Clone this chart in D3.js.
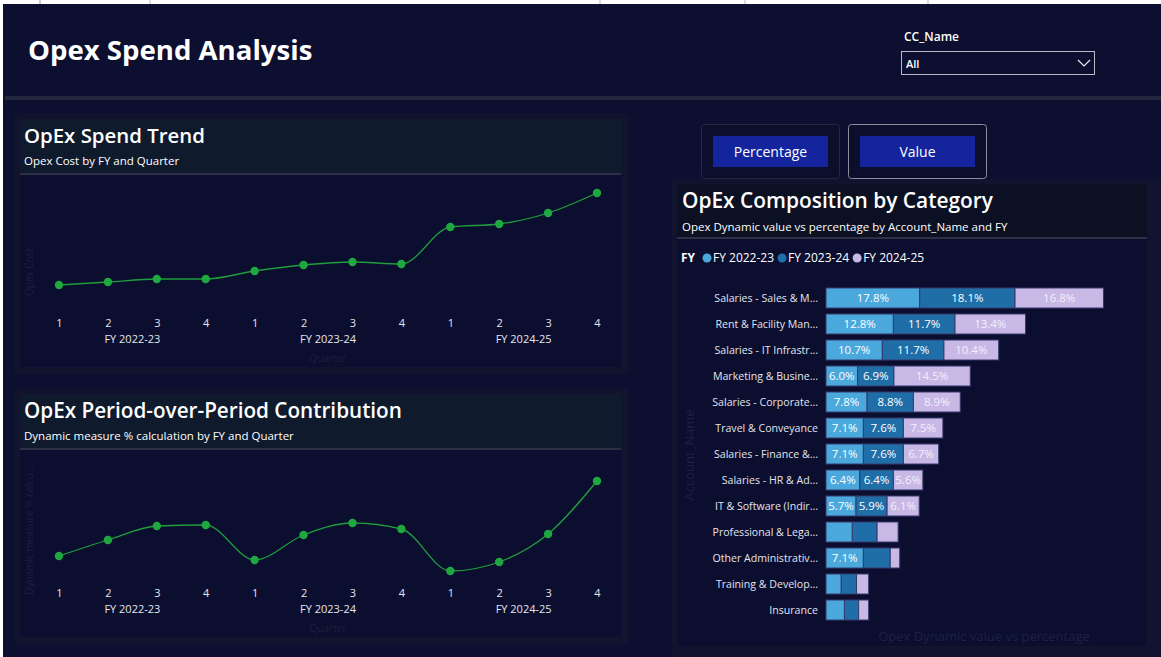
<!DOCTYPE html>
<html><head><meta charset="utf-8">
<script src="https://cdn.jsdelivr.net/npm/d3@7"></script>
<style>
html,body{margin:0;padding:0;background:#fff;overflow:hidden}
svg{display:block}
text{font-family:"Open Sans","Noto Sans",sans-serif}
</style></head><body>
<svg id="c" width="1161" height="657"></svg>
<script>
// ---------- DATA ----------
const quarters = ["1","2","3","4","1","2","3","4","1","2","3","4"];
const quarterFY = ["FY 2022-23","FY 2022-23","FY 2022-23","FY 2022-23","FY 2023-24","FY 2023-24","FY 2023-24","FY 2023-24","FY 2024-25","FY 2024-25","FY 2024-25","FY 2024-25"];
const fyLabels = ["FY 2022-23","FY 2023-24","FY 2024-25"];
const opexCost = [3.15, 3.18, 3.21, 3.21, 3.29, 3.35, 3.38, 3.36, 3.73, 3.76, 3.87, 4.07];
const popContribution = [2.4, 4.0, 5.4, 5.5, 2.0, 4.5, 5.7, 5.1, 0.9, 1.8, 4.6, 9.9];
const accounts = ["Salaries - Sales & M...","Rent & Facility Man...","Salaries - IT Infrastr...","Marketing & Busine...","Salaries - Corporate...","Travel & Conveyance","Salaries - Finance &...","Salaries - HR & Ad...","IT & Software (Indir...","Professional & Lega...","Other Administrativ...","Training & Develop...","Insurance"];
const pctFY2223 = [17.8, 12.8, 10.7, 6.0, 7.8, 7.1, 7.1, 6.4, 5.7, 5.0, 7.1, 2.9, 3.5];
const pctFY2324 = [18.1, 11.7, 11.7, 6.9, 8.8, 7.6, 7.6, 6.4, 5.9, 4.7, 5.1, 2.9, 2.7];
const pctFY2425 = [16.8, 13.4, 10.4, 14.5, 8.9, 7.5, 6.7, 5.6, 6.1, 4.0, 1.8, 2.3, 1.9];
const fyColors = ["#4aa8dd","#1f6ea8","#c8b8e6"];

// ---------- LAYOUT ----------
const svg = d3.select("#c");
const PAGE = "#0c0f30", RING = "#12142f", PLOT = "#0b0e2f", HEAD = "#0f1a2d", SEP = "#2c3044";

svg.append("rect").attr("x",0).attr("y",0).attr("width",1161).attr("height",657).attr("fill","#ffffff");
svg.append("rect").attr("x",3).attr("y",4).attr("width",1158).attr("height",653).attr("fill",PAGE);
[[40,"#999"],[150,"#bbb"],[600,"#bbb"],[745,"#bbb"],[928,"#bbb"]].forEach(([lx,c])=>{
  svg.append("line").attr("x1",lx).attr("x2",lx).attr("y1",0).attr("y2",4).attr("stroke",c);
});

// header
svg.append("text").attr("x",28).attr("y",60).attr("fill","#fff").attr("font-size",27.6).attr("font-weight",700).text("Opex Spend Analysis");
svg.append("rect").attr("x",5).attr("y",96).attr("width",1156).attr("height",4).attr("fill","#23263d");

// slicer
svg.append("text").attr("x",904).attr("y",41).attr("fill","#fff").attr("font-size",12).attr("font-weight",600).text("CC_Name");
svg.append("rect").attr("x",901.5).attr("y",51.5).attr("width",193).attr("height",23).attr("fill","none").attr("stroke","#b8bac6").attr("stroke-width",1);
svg.append("text").attr("x",906).attr("y",68).attr("fill","#fff").attr("font-size",11).attr("font-weight",600).text("All");
svg.append("path").attr("d","M1078,60 L1084,66 L1090,60").attr("fill","none").attr("stroke","#e8e8ee").attr("stroke-width",1.2);

// ---------- LINE PANELS ----------
function linePanel(cfg){
  const g = svg.append("g");
  g.append("rect").attr("x",cfg.x-5).attr("y",cfg.y-5).attr("width",cfg.w+12).attr("height",cfg.h+12).attr("fill",RING);
  g.append("rect").attr("x",cfg.x).attr("y",cfg.y).attr("width",cfg.w).attr("height",cfg.h).attr("fill",PLOT);
  g.append("rect").attr("x",cfg.x).attr("y",cfg.y).attr("width",cfg.w).attr("height",cfg.headH).attr("fill",HEAD);
  g.append("rect").attr("x",cfg.x).attr("y",cfg.y+cfg.headH-1).attr("width",cfg.w).attr("height",2).attr("fill",SEP);
  g.append("text").attr("x",cfg.x+4).attr("y",cfg.y+24).attr("fill","#fff").attr("font-size",cfg.titleSize).attr("font-weight",600).text(cfg.title);
  g.append("text").attr("x",cfg.x+4).attr("y",cfg.y+46).attr("fill","#fff").attr("font-size",11.5).text(cfg.subtitle);

  const keys = quarters.map((q,i)=>i);
  const x = d3.scalePoint().domain(keys).range([59,597]);
  const y = d3.scaleLinear().domain(cfg.domain).range(cfg.range);

  const xAxis = g.append("g").attr("transform",`translate(0,${cfg.tickY})`)
    .call(d3.axisBottom(x).tickSize(0).tickPadding(0).tickFormat(i=>quarters[i]));
  xAxis.select(".domain").remove();
  xAxis.selectAll("text").attr("fill","#e6e6ee").attr("font-size",11).attr("font-family","Open Sans, sans-serif").attr("dy","0");

  fyLabels.forEach((fy,k)=>{
    const idx = quarterFY.map((f,i)=>f===fy?i:-1).filter(i=>i>=0);
    const cx = (x(idx[1])+x(idx[2]))/2;
    g.append("text").attr("x",cx).attr("y",cfg.tickY+16).attr("text-anchor","middle").attr("fill","#e6e6ee").attr("font-size",11).text(fy);
  });
  g.append("text").attr("x",328).attr("y",cfg.tickY+34.5).attr("text-anchor","middle").attr("fill","#1c2040").attr("font-size",10).text("Quarter");
  g.append("text").attr("transform",`translate(33,${cfg.yTitleC}) rotate(-90)`).attr("text-anchor","middle").attr("fill","#1c2040").attr("font-size",10).text(cfg.yTitle);

  const line = d3.line().x((d,i)=>x(i)).y(d=>y(d)).curve(d3.curveMonotoneX);
  g.append("path").datum(cfg.values).attr("d",line).attr("fill","none").attr("stroke","#1f9e3c").attr("stroke-width",1.3);
  g.selectAll("circle.pt").data(cfg.values).enter().append("circle")
    .attr("cx",(d,i)=>x(i)).attr("cy",d=>y(d)).attr("r",4.2).attr("fill","#1fa840");
}

linePanel({x:20,y:119,w:601,h:248,headH:55,title:"OpEx Spend Trend",titleSize:20.4,subtitle:"Opex Cost by FY and Quarter",
  domain:[3.0,4.2],range:[300,180],values:opexCost,tickY:327,yTitle:"Opex Cost",yTitleC:272});
linePanel({x:20,y:394,w:601,h:243,headH:55,title:"OpEx Period-over-Period Contribution",titleSize:20.7,subtitle:"Dynamic measure % calculation by FY and Quarter",
  domain:[0,10],range:[580,480],values:popContribution,tickY:597,yTitle:"Dynamic measure % calcu...",yTitleC:530});

// ---------- BUTTONS ----------
function button(x0,label,stroke){
  svg.append("rect").attr("x",x0+0.5).attr("y",124.5).attr("width",138).attr("height",54).attr("rx",3).attr("fill","#0c0e2c").attr("stroke",stroke);
  svg.append("rect").attr("x",x0+12).attr("y",136).attr("width",115).attr("height",31).attr("fill","#13249c");
  svg.append("text").attr("x",x0+69.5).attr("y",157).attr("text-anchor","middle").attr("fill","#fff").attr("font-size",14).text(label);
}
button(701,"Percentage","#262838");
button(848,"Value","#8c8e9c");

// ---------- BAR PANEL ----------
const bp = svg.append("g");
bp.append("rect").attr("x",672).attr("y",179).attr("width",489).attr("height",478).attr("fill",RING);
bp.append("rect").attr("x",677).attr("y",184).attr("width",470).attr("height",462).attr("fill",PLOT);
bp.append("rect").attr("x",677).attr("y",184).attr("width",470).attr("height",54).attr("fill","#0b1122");
bp.append("rect").attr("x",677).attr("y",237).attr("width",470).attr("height",2).attr("fill",SEP);
bp.append("text").attr("x",682).attr("y",208).attr("fill","#fff").attr("font-size",20.9).attr("font-weight",600).text("OpEx Composition by Category");
bp.append("text").attr("x",682).attr("y",231).attr("fill","#fff").attr("font-size",11.5).text("Opex Dynamic value vs percentage by Account_Name and FY");

// legend
const lg = bp.append("g");
lg.append("text").attr("x",681).attr("y",262).attr("fill","#fff").attr("font-size",12).attr("font-weight",700).text("FY");
let lx = 707;
fyLabels.forEach((fy,k)=>{
  lg.append("circle").attr("cx",lx).attr("cy",258).attr("r",4.5).attr("fill",fyColors[k]);
  const t = lg.append("text").attr("x",lx+6).attr("y",262).attr("fill","#fff").attr("font-size",12).text(fy);
  lx += t.node().getComputedTextLength() + 14;
});

const series = [pctFY2223, pctFY2324, pctFY2425];
const rows = accounts.map((a,i)=>({name:a, v:series.map(s=>s[i])}));
const xb = d3.scaleLinear().domain([0,60]).range([826,826+60*5.265]);
const yb = d3.scaleBand().domain(accounts).range([285,623]).paddingInner(0.23).paddingOuter(0.115);

const yAx = bp.append("g").attr("transform","translate(826,0)").call(d3.axisLeft(yb).tickSize(0).tickPadding(8));
yAx.select(".domain").remove();
yAx.selectAll("text").attr("fill","#e4e4ec").attr("font-size",10.6).attr("font-family","Open Sans, sans-serif").attr("dy","0.4em");

rows.forEach(r=>{
  let acc = 0;
  r.v.forEach((v,k)=>{
    const x0 = xb(acc), x1 = xb(acc+v);
    bp.append("rect").attr("x",x0).attr("y",yb(r.name)).attr("width",x1-x0).attr("height",yb.bandwidth())
      .attr("fill",fyColors[k]).attr("stroke","#363a6c").attr("stroke-width",1);
    const lbl = v.toFixed(1)+"%";
    if (x1-x0 >= 28){
      bp.append("text").attr("x",(x0+x1)/2).attr("y",yb(r.name)+yb.bandwidth()/2+4.2).attr("text-anchor","middle")
        .attr("fill", k===2 ? "#f3f0fb" : "#ffffff").attr("font-size",11.5).text(lbl);
    }
    acc += v;
  });
});

bp.append("text").attr("transform","translate(694,455) rotate(-90)").attr("text-anchor","middle").attr("fill","#1d2142").attr("font-size",13).text("Account_Name");
bp.append("text").attr("x",984).attr("y",641).attr("text-anchor","middle").attr("fill","#1d2142").attr("font-size",13).text("Opex Dynamic value vs percentage");
</script>
</body></html>
